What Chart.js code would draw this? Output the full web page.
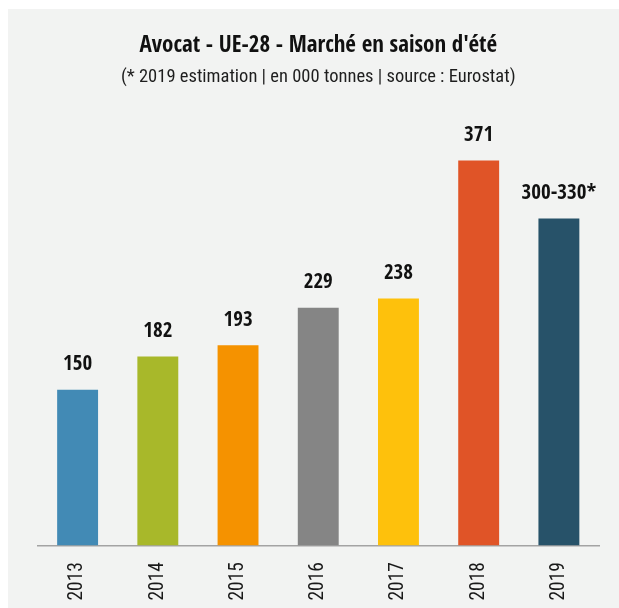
<!DOCTYPE html>
<html lang="fr">
<head>
<meta charset="utf-8">
<title>Avocat - UE-28 - Marché en saison d'été</title>
<script src="https://cdn.jsdelivr.net/npm/chart.js@4.4.1/dist/chart.umd.min.js"></script>
<style>
  html, body { margin: 0; padding: 0; background: #ffffff; }
  .frame { position: absolute; left: 8px; top: 9px; width: 611px; height: 599px; background: #f2f3f2; }
  #avocatChart { position: absolute; left: 0; top: 0; }
</style>
</head>
<body>
<div class="frame"></div>
<canvas id="avocatChart" width="619" height="608"></canvas>
<script>
/* --- Données --- */
const years = ['2013', '2014', '2015', '2016', '2017', '2018', '2019'];
const volumes = [150, 182, 193, 229, 238, 371, 315]; // 2019 = estimation 300-330
const valueLabels = ['150', '182', '193', '229', '238', '371', '300-330*'];
const barColors = ['#428ab5', '#a8b82a', '#f59200', '#858585', '#fec10c', '#e05427', '#275269'];

// gras : Open Sans Condensed (bold seulement), normal : Roboto Condensed
const FONT_BOLD = '"Open Sans Condensed", "Roboto Condensed", "DejaVu Sans Condensed", sans-serif';
const FONT_REG = '"Roboto Condensed", "DejaVu Sans Condensed", sans-serif';

/* --- Étiquettes au-dessus des barres --- */
const valueLabelPlugin = {
  id: 'valueLabels',
  afterDatasetsDraw(chart) {
    const { ctx } = chart;
    const meta = chart.getDatasetMeta(0);
    ctx.save();
    ctx.font = `bold 21px ${FONT_BOLD}`;
    ctx.fillStyle = '#111111';
    ctx.textAlign = 'center';
    ctx.textBaseline = 'middle';
    meta.data.forEach((bar, i) => {
      ctx.fillText(valueLabels[i], bar.x, bar.y - 25);
    });
    ctx.restore();
  }
};

const chart = new Chart(document.getElementById('avocatChart'), {
  type: 'bar',
  data: {
    labels: years,
    datasets: [{
      data: volumes,
      backgroundColor: barColors,
      borderWidth: 0,
      barPercentage: 0.51,
      categoryPercentage: 1
    }]
  },
  options: {
    responsive: false,
    animation: false,
    devicePixelRatio: 1,
    layout: { padding: { left: 0, right: 20, top: 0, bottom: 0 } },
    plugins: {
      legend: { display: false },
      tooltip: { enabled: false },
      title: {
        display: true,
        fullSize: false,
        text: "Avocat - UE-28 - Marché en saison d'été",
        color: '#111111',
        font: { family: FONT_BOLD, size: 23, weight: 'bold', lineHeight: 1.2 },
        padding: { top: 31.7, bottom: 0 }
      },
      subtitle: {
        display: true,
        fullSize: false,
        text: '(* 2019 estimation | en 000 tonnes | source : Eurostat)',
        color: '#1e1e1e',
        font: { family: FONT_REG, size: 18.5, lineHeight: 1.2 },
        padding: { top: 7.1, bottom: 41.7 }
      }
    },
    scales: {
      y: {
        min: 0,
        max: 400,
        ticks: { display: false },
        grid: { display: false },
        border: { display: false },
        afterFit: s => { s.width = 37.5; }
      },
      x: {
        grid: { display: false, drawTicks: false },
        border: { display: true, color: '#a3a3a3', width: 1.5 },
        ticks: {
          minRotation: 90,
          maxRotation: 90,
          padding: 16.5,
          color: '#1a1a1a',
          font: { family: FONT_REG, size: 19.5, lineHeight: 0.1 }
        },
        afterFit: s => { s.height = 62.5; }
      }
    }
  },
  plugins: [valueLabelPlugin]
});
</script>
</body>
</html>
